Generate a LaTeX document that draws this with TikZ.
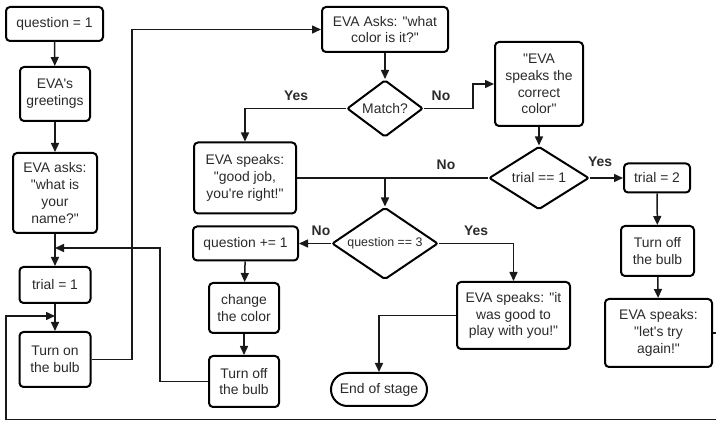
\documentclass[tikz,border=0pt]{standalone}
\usepackage{fontspec}
\setmainfont{Liberation Sans}[Ligatures=TeXOff]
\usetikzlibrary{arrows.meta,shapes.geometric,shapes.misc}
\definecolor{txt}{HTML}{2A2A2A}
\begin{document}
\begin{tikzpicture}[x=1pt,y=-1pt,
  every node/.style={text=txt,font=\fontsize{13.9}{16.7}\selectfont},
  box/.style={draw=black,line width=2pt,rounded corners=4pt,align=center,inner sep=0pt},
  dia/.style={draw=black,line width=2pt,diamond,inner sep=0pt,rounded corners=2pt},
  term/.style={draw=black,line width=2pt,rounded rectangle,inner sep=0pt},
  conn/.style={draw=black!90,line width=1.5pt,-{Triangle[length=9pt,width=8pt]}},
  plain/.style={draw=black!90,line width=1.5pt},
  lbl/.style={font=\fontsize{13.9}{16.7}\selectfont\bfseries}]
\useasboundingbox (0,0) rectangle (716,422);
\clip (0,0) rectangle (716,422);
% nodes
\node[box,minimum width=97pt,minimum height=34pt] (q1) at (54.5,24) {question = 1};
\node[box,minimum width=70pt,minimum height=54pt] (greet) at (55,94) {EVA's\\greetings};
\node[box,minimum width=84pt,minimum height=80pt] (askname) at (55,193) {EVA asks:\\"what is\\your\\name?"};
\node[box,minimum width=71pt,minimum height=36pt] (trial1) at (55,285) {trial = 1};
\node[box,minimum width=71pt,minimum height=55pt] (bulbon) at (55,359.5) {Turn on\\the bulb};
\node[box,minimum width=126pt,minimum height=45pt] (askcolor) at (385,29.5) {EVA Asks: "what\\color is it?"};
\node[dia,minimum width=76pt,minimum height=57pt] (match) at (385,108.5) {\makebox[0pt]{Match?}};
\node[box,minimum width=88pt,minimum height=84pt] (correct) at (539,84) {"EVA\\speaks the\\correct\\color"};
\node[dia,minimum width=100pt,minimum height=63pt] (trialq) at (539,178) {\makebox[0pt]{trial == 1}};
\node[box,minimum width=102pt,minimum height=71pt] (goodjob) at (245,178) {EVA speaks:\\"good job,\\you're right!"};
\node[dia,minimum width=106pt,minimum height=72pt] (q3) at (385,243.5) {\makebox[0pt]{\fontsize{12.4}{14}\selectfont question == 3}};
\node[box,minimum width=105pt,minimum height=34pt] (qplus) at (245.5,243.5) {question += 1};
\node[box,minimum width=70pt,minimum height=50pt] (change) at (244,308) {change\\the color};
\node[box,minimum width=70pt,minimum height=51pt] (bulboff1) at (244,381.5) {Turn off\\the bulb};
\node[box,minimum width=113pt,minimum height=67pt] (goodplay) at (513.5,315.5) {EVA speaks: "it\\was good to\\play with you!"};
\node[term,minimum width=96pt,minimum height=33pt] (end) at (379,389.5) {End of stage};
\node[box,minimum width=66pt,minimum height=29pt] (trial2) at (657,178) {trial = 2};
\node[box,minimum width=73pt,minimum height=50pt] (bulboff2) at (657.5,251) {Turn off\\the bulb};
\node[box,minimum width=107pt,minimum height=68pt] (tryagain) at (658.5,333) {EVA speaks:\\"let's try\\again!"};
% junction coordinates
\coordinate (mA) at (55,248);
\coordinate (mB) at (55,316);
\coordinate (j1) at (385,178);
% connectors
\draw[conn] (q1) -- (greet);
\draw[conn] (greet) -- (askname);
\draw[conn] (askname) -- (trial1);
\draw[conn] (trial1) -- (bulbon);
\draw[conn] (bulboff1.west) -- (160,381.5) |- (mA);
\draw[conn] (bulbon.east) -- (132,359.5) |- (askcolor.west);
\draw[conn] (askcolor) -- (match);
\draw[conn] (match.west) -| (goodjob.north);
\draw[conn] (match.east) -- (473,108.5) |- (correct.west);
\draw[conn] (correct) -- (trialq);
\draw[plain] (goodjob.east) -- (trialq.west);
\draw[conn] (j1) -- (q3.north);
\draw[conn] (trialq.east) -- (trial2.west);
\draw[conn] (trial2) -- (bulboff2);
\draw[conn] (bulboff2) -- (tryagain);
\draw[conn] (q3.west) -- (qplus.east);
\draw[conn] (q3.east) -| (goodplay.north);
\draw[conn] (qplus) -- (change);
\draw[conn] (change) -- (bulboff1);
\draw[conn] (goodplay.west) -| (end.north);
\draw[conn] (tryagain.east) -- (722,333) -- (722,419.5) -- (6,419.5) |- (mB);
% labels
\node[lbl] at (296,96) {Yes};
\node[lbl] at (441,96) {No};
\node[lbl] at (446,165) {No};
\node[lbl] at (600,162) {Yes};
\node[lbl] at (321,231) {No};
\node[lbl] at (476,231) {Yes};
\end{tikzpicture}
\end{document}
